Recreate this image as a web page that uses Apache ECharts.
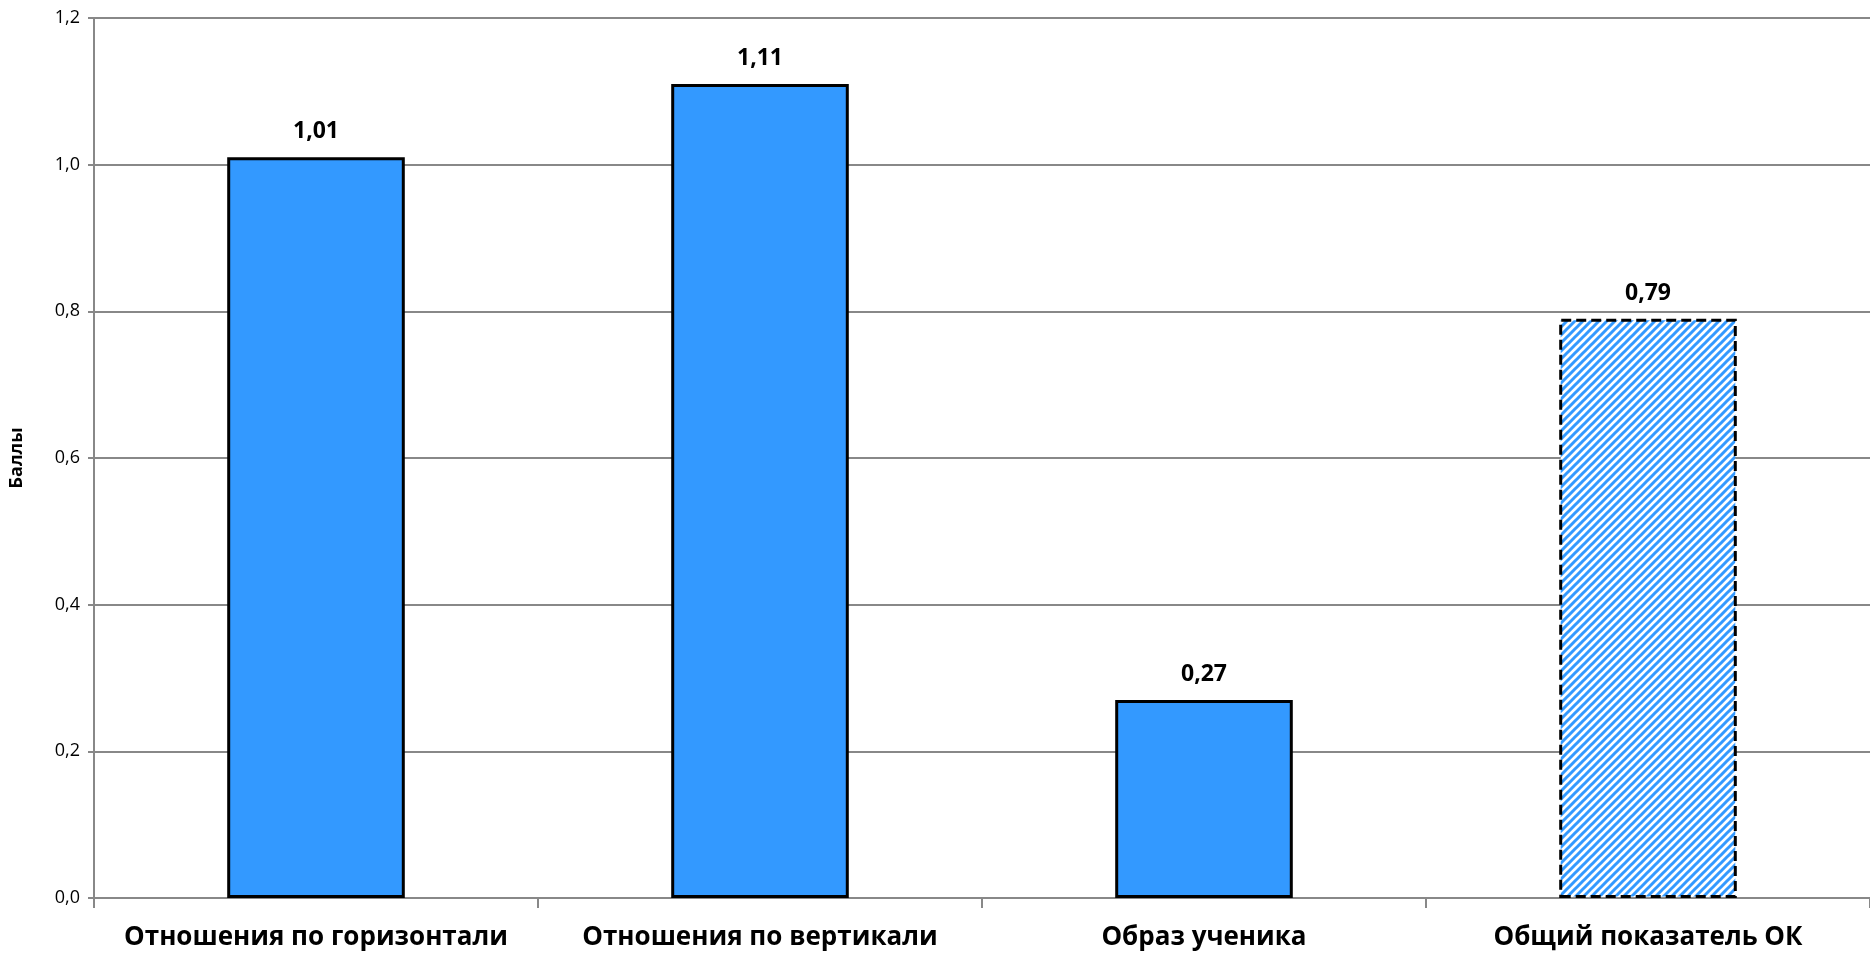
<!DOCTYPE html>
<html>
<head>
<meta charset="utf-8">
<script src="https://cdn.jsdelivr.net/npm/echarts@6/dist/echarts.min.js"></script>
<style>
html,body{margin:0;padding:0;background:#fff;}
#chart{width:1870px;height:955px;}
</style>
</head>
<body>
<div id="chart"></div>
<script>
const categories = ['Отношения по горизонтали', 'Отношения по вертикали', 'Образ ученика', 'Общий показатель ОК'];
const values = [1.01, 1.11, 0.27, 0.79];
const yTicks = { min: 0, max: 1.2, interval: 0.2 };
const yName = 'Баллы';

// stripe pattern for the summary bar
const pc = document.createElement('canvas');
pc.width = 8; pc.height = 8;
const g = pc.getContext('2d');
g.fillStyle = '#ffffff';
g.fillRect(0, 0, 8, 8);
g.strokeStyle = '#3399ff';
g.lineWidth = 3;
g.beginPath();
g.moveTo(-2, 10); g.lineTo(10, -2);
g.moveTo(-6, 6); g.lineTo(6, -6);
g.moveTo(2, 14); g.lineTo(14, 2);
g.stroke();

const font = '"Open Sans", "Noto Sans", sans-serif';
const fmt = v => v.toFixed(2).replace('.', ',');

const data = values.map((v, i) => {
  if (i === values.length - 1) {
    return {
      value: v,
      itemStyle: {
        color: { image: pc, repeat: 'repeat' },
        borderColor: '#000',
        borderWidth: 3,
        borderType: [10, 5]
      }
    };
  }
  return { value: v };
});

const chart = echarts.init(document.getElementById('chart'));
chart.setOption({
  animation: false,
  grid: { left: 88, right: 0, top: 18, bottom: 57, containLabel: false },
  xAxis: {
    type: 'category',
    data: categories,
    axisLine: { lineStyle: { color: '#888', width: 2 } },
    axisTick: { show: true, alignWithLabel: false, length: 10, lineStyle: { color: '#888', width: 2 } },
    axisLabel: { color: '#000', fontFamily: font, fontWeight: 'bold', fontSize: 26, margin: 27, interval: 0 }
  },
  yAxis: {
    type: 'value',
    min: yTicks.min, max: yTicks.max, interval: yTicks.interval,
    name: yName,
    nameLocation: 'middle',
    nameGap: 68,
    nameRotate: 90,
    nameTextStyle: { color: '#000', fontFamily: font, fontWeight: 'bold', fontSize: 18 },
    axisLine: { show: true, lineStyle: { color: '#888', width: 2 } },
    axisTick: { show: true, length: 6, lineStyle: { color: '#888', width: 2 } },
    axisLabel: { color: '#000', fontFamily: font, fontSize: 18, margin: 14,
      formatter: v => v.toFixed(1).replace('.', ',') },
    splitLine: { show: true, lineStyle: { color: '#888', width: 2 } }
  },
  series: [{
    type: 'bar',
    data: data,
    barWidth: '40%',
    itemStyle: { color: '#3399ff', borderColor: '#000', borderWidth: 3 },
    label: {
      show: true, position: 'top', distance: 14,
      color: '#000', fontFamily: font, fontWeight: 'bold', fontSize: 23,
      formatter: p => fmt(p.value)
    }
  }]
});
</script>
</body>
</html>
